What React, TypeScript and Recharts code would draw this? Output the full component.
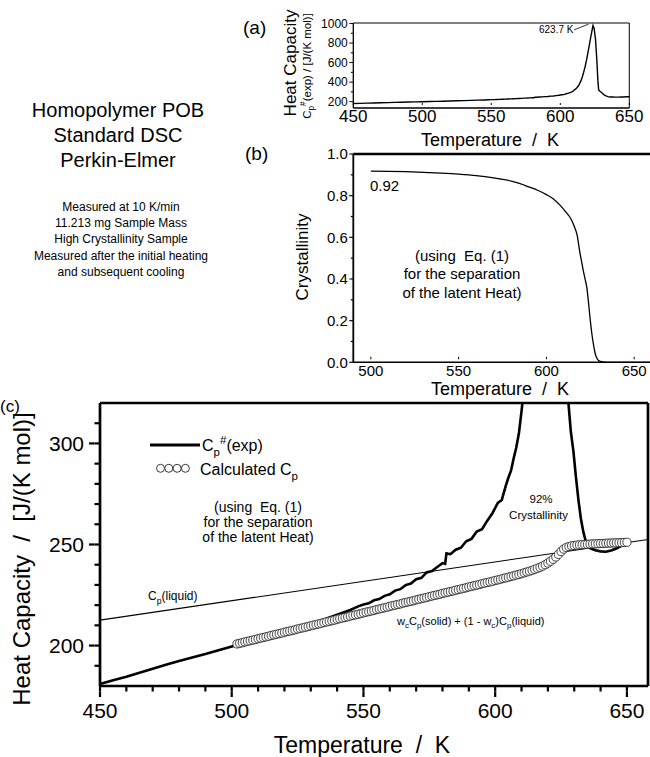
import { ComposedChart, Line, Scatter, XAxis, YAxis, Legend, ReferenceLine } from 'recharts'

const FONT = '"Liberation Sans", Arial, Helvetica, sans-serif'

// Cp#(exp) in J/(K mol) -- same run is drawn in (a) and, zoomed, in (c)
const expT = [
  450, 455, 460, 465, 470, 475, 480, 485, 490, 495, 500, 505, 510, 515, 520, 525, 530, 535, 540, 545,
  548, 550, 552, 554, 556, 558, 560, 562, 564, 566, 568, 570, 572, 574, 576, 578, 580, 581, 581.5, 583,
  585, 587, 589, 591, 593, 595, 597, 599, 601, 602.5, 604, 605, 606, 607, 608, 609, 610, 611, 612, 613,
  614, 615, 616, 617, 618, 619, 620, 621, 622, 623, 623.7, 624.5, 625.5, 626.5, 627.2, 627.8, 628.7, 629.7, 630.6, 631.6,
  632.5, 633.5, 634.5, 636, 638, 640, 642, 644, 646, 648, 650,
]
const expCp = [
  181.0, 182.8, 184.6, 186.6, 188.5, 190.5, 192.4, 194.1, 195.8, 197.7, 199.5, 201.1, 203.0, 204.8, 206.9, 208.6, 210.9, 212.9, 215.2, 217.6,
  219.4, 220.3, 220.9, 222.4, 223.0, 224.6, 225.4, 227.2, 227.9, 229.9, 230.7, 232.8, 233.5, 236.2, 236.9, 238.9, 240.8, 240.4, 245.6, 245.2,
  247.4, 248.4, 251.6, 252.8, 256.4, 257.6, 261.8, 265.6, 270.6, 272.0, 279.0, 283.0, 286.5, 292.5, 298.0, 305.0, 316, 328, 342, 360,
  385, 415, 455, 505, 560, 625, 700, 775, 855, 930, 980, 950, 840, 620, 420, 320, 306, 296, 284, 272,
  263, 256, 251, 248.2, 247.2, 246.6, 246.4, 247.0, 248.0, 249.4, 250.4,
]

// Cp(liquid) straight line in (c)
const liqT = [450, 658]
const liqCp = [212.6, 252.5]

// calculated Cp (open circles), one point per kelvin starting at 502 K
const calcStartT = 502
const calcCp = [
  200.8, 201.1, 201.4, 201.8, 202.1, 202.4, 202.7, 203.0, 203.4, 203.7, 204.0, 204.3, 204.6, 205.0, 205.3, 205.6, 205.9, 206.2,
  206.6, 206.9, 207.2, 207.5, 207.8, 208.2, 208.5, 208.8, 209.1, 209.4, 209.8, 210.1, 210.4, 210.7, 211.0, 211.4, 211.7, 212.0,
  212.3, 212.6, 213.0, 213.3, 213.6, 213.9, 214.2, 214.6, 214.9, 215.2, 215.5, 215.8, 216.2, 216.5, 216.8, 217.1, 217.4, 217.8,
  218.1, 218.4, 218.7, 219.0, 219.4, 219.7, 220.0, 220.3, 220.6, 221.0, 221.3, 221.6, 221.9, 222.2, 222.6, 222.9, 223.2, 223.5,
  223.8, 224.2, 224.5, 224.8, 225.1, 225.4, 225.8, 226.1, 226.4, 226.7, 227.0, 227.4, 227.7, 228.0, 228.3, 228.6, 229.0, 229.3,
  229.6, 229.9, 230.2, 230.6, 230.9, 231.2, 231.5, 231.8, 232.2, 232.5, 232.8, 233.2, 233.5, 233.8, 234.2, 234.5, 234.9, 235.2,
  235.6, 236.0, 236.4, 236.8, 237.2, 237.7, 238.2, 238.7, 239.3, 240.0, 240.8, 241.7, 242.7, 243.8, 245.1, 246.5, 247.7, 248.5,
  249.0, 249.3, 249.5, 249.7, 249.8, 249.9, 250.0, 250.1, 250.2, 250.3, 250.3, 250.4, 250.5, 250.5, 250.6, 250.7, 250.7, 250.8,
  250.8, 250.9, 250.9, 251.0, 251.1,
]

// crystallinity w_c for panel (b)
const crystT = [
  500, 510, 520, 530, 540, 550, 560, 570, 580, 585, 590, 595, 600, 604, 608, 611, 614, 616, 617.5, 619,
  620, 621, 622, 623, 624, 625, 626, 627, 628, 629, 630, 632, 634, 645, 659,
]
const crystW = [
  0.918, 0.917, 0.915, 0.912, 0.908, 0.903, 0.896, 0.885, 0.870, 0.858, 0.842, 0.826, 0.805, 0.784, 0.752, 0.722, 0.688, 0.650, 0.610, 0.530,
  0.485, 0.440, 0.400, 0.360, 0.285, 0.200, 0.130, 0.075, 0.035, 0.016, 0.007, 0.002, 0, 0, 0,
]

// tick positions (labels only on the majors)
const aTicksX = [450, 460, 470, 480, 490, 500, 510, 520, 530, 540, 550, 560, 570, 580, 590, 600, 610, 620, 630, 640, 650]
const aTicksY = [200, 300, 400, 500, 600, 700, 800, 900, 1000]
const bTicksX = [500, 510, 520, 530, 540, 550, 560, 570, 580, 590, 600, 610, 620, 630, 640, 650]
const bTicksY = [0, 0.1, 0.2, 0.3, 0.4, 0.5, 0.6, 0.7, 0.8, 0.9, 1.0]
const cTicksX = [450, 460, 470, 480, 490, 500, 510, 520, 530, 540, 550, 560, 570, 580, 590, 600, 610, 620, 630, 640, 650]
const cTicksY = [190, 200, 210, 220, 230, 240, 250, 260, 270, 280, 290, 300, 310]

const expData = expT.map((T, i) => ({ T, cp: expCp[i] }))
const liqData = liqT.map((T, i) => ({ T, cp: liqCp[i] }))
const calcData = calcCp.map((cp, i) => ({ T: calcStartT + i, cp }))
const crystData = crystT.map((T, i) => ({ T, w: crystW[i] }))

// plot box of each chart, px inside its own svg
const A = { w: 410, h: 150, left: 113.3, top: 23, right: 20.7, bottom: 42 }
const B = { w: 400, h: 270, left: 103.3, top: 24, right: 0, bottom: 37.7 }
const C = { w: 650, h: 362, left: 100, top: 8, right: 2, bottom: 71 }

const ink = (w: number) => ({ stroke: '#000', strokeWidth: w })

// native tick lines give the short (minor) length; majors get an extension and a label here
function yTick(axisX: number, isMajor: (v: number) => boolean, minor: number, major: number, gap: number, fontSize: number, sw: number, fmt: (v: number) => string) {
  return (p: any) => {
    const v = p.payload.value
    const y = p.payload.coordinate
    if (!isMajor(v)) return <g />
    return (
      <g>
        <line x1={axisX - minor} y1={y} x2={axisX - major} y2={y} stroke="#000" strokeWidth={sw} />
        <text x={axisX - major - gap} y={y} dy="0.36em" textAnchor="end" fontSize={fontSize} fontFamily={FONT} fill="#000">
          {fmt(v)}
        </text>
      </g>
    )
  }
}

function xTick(axisY: number, isMajor: (v: number) => boolean, minor: number, major: number, inward: boolean, gap: number, fontSize: number, sw: number) {
  return (p: any) => {
    const v = p.payload.value
    const x = p.payload.coordinate
    if (!isMajor(v)) return <g />
    const d = inward ? -1 : 1
    const ty = inward ? axisY + gap : axisY + major + gap
    return (
      <g>
        <line x1={x} y1={axisY + d * minor} x2={x} y2={axisY + d * major} stroke="#000" strokeWidth={sw} />
        <text x={x} y={ty} dy="0.71em" textAnchor="middle" fontSize={fontSize} fontFamily={FONT} fill="#000">
          {v}
        </text>
      </g>
    )
  }
}

const every50 = (v: number) => v % 50 === 0
const aTickX = xTick(A.h - A.bottom, every50, 3, 5, true, 2, 17, 1)
const aTickY = yTick(A.left, (v) => v % 200 === 0, 2.5, 4, 1.5, 12, 1, (v) => String(v))
const bTickX = xTick(B.h - B.bottom, every50, 3, 5.5, true, 3.3, 15, 1)
const bTickY = yTick(B.left, (v) => Math.round(v * 10) % 2 === 0, 2.5, 4, 1.5, 15, 1.2, (v) => v.toFixed(1))
const cTickX = xTick(C.h - C.bottom, every50, 5.5, 11, false, 6, 21, 2.2)
const cTickY = yTick(C.left, every50, 5.5, 11, 5, 21, 2.2, (v) => String(v))

// C with subscript p (and optional # superscript), followed by normal text
function Cp({ s, hash, rest }: { s: number; hash?: boolean; rest: string }) {
  const small = s * 0.72
  if (hash) {
    return (
      <>
        C
        <tspan dy={s * 0.3} fontSize={small}>p</tspan>
        <tspan dy={-s * 0.72} fontSize={small}>#</tspan>
        <tspan dy={s * 0.42} fontSize={s}>{rest}</tspan>
      </>
    )
  }
  return (
    <>
      C
      <tspan dy={s * 0.3} fontSize={small}>p</tspan>
      <tspan dy={-s * 0.3} fontSize={s}>{rest}</tspan>
    </>
  )
}

function CLegend() {
  const circles = [20.5, 28.8, 37.1, 45.4]
  return (
    <svg width={240} height={130} style={{ display: 'block', overflow: 'visible' }} fontFamily={FONT} fill="#000">
      <line x1={10} y1={20} x2={60} y2={20} stroke="#000" strokeWidth={3} />
      <text x={62} y={26} fontSize={16}>
        <Cp s={16} hash rest="(exp)" />
      </text>
      {circles.map((cx) => (
        <circle key={cx} cx={cx} cy={43.3} r={4} fill="#fff" stroke="#222" strokeWidth={0.9} />
      ))}
      <text x={60} y={50} fontSize={16}>
        {'Calculated '}
        <Cp s={16} rest="" />
      </text>
      <g textAnchor="middle" fontSize={14}>
        <text x={118} y={86.5}>(using{'\u00a0\u00a0'}Eq. (1)</text>
        <text x={118} y={101.5}>for the separation</text>
        <text x={118} y={116.5}>of the latent Heat)</text>
      </g>
    </svg>
  )
}

function Overlay() {
  return (
    <svg width={650} height={757} style={{ position: 'absolute', left: 0, top: 0, pointerEvents: 'none' }} fontFamily={FONT} fill="#000">
      <text x={243} y={34} fontSize={19}>(a)</text>
      <text x={245} y={160} fontSize={19}>(b)</text>
      <text x={0} y={412} fontSize={17}>(c)</text>

      <g textAnchor="middle" fontSize={20}>
        <text x={118} y={117}>Homopolymer POB</text>
        <text x={118} y={142}>Standard DSC</text>
        <text x={118} y={167}>Perkin-Elmer</text>
      </g>
      <g textAnchor="middle" fontSize={12}>
        <text x={121} y={211}>Measured at 10 K/min</text>
        <text x={121} y={227}>11.213 mg Sample Mass</text>
        <text x={121} y={243}>High Crystallinity Sample</text>
        <text x={121} y={260}>Measured after the initial heating</text>
        <text x={121} y={276}>and subsequent cooling</text>
      </g>

      {/* (a) titles */}
      <text x={490} y={146} fontSize={18} textAnchor="middle">Temperature{'\u00a0\u00a0'}/{'\u00a0\u00a0'}K</text>
      <text x={296} y={63} fontSize={17} textAnchor="middle" transform="rotate(-90 296 63)">Heat Capacity</text>
      <text x={311} y={66} fontSize={11.5} textAnchor="middle" transform="rotate(-90 311 66)">
        <Cp s={11.5} hash rest="(exp) / [J/(K mol)]" />
      </text>
      <text x={539} y={33} fontSize={10}>623.7 K</text>

      {/* (b) titles and notes */}
      <text x={500} y={395} fontSize={18} textAnchor="middle">Temperature{'\u00a0\u00a0'}/{'\u00a0\u00a0'}K</text>
      <text x={308} y={257} fontSize={17} textAnchor="middle" transform="rotate(-90 308 257)">Crystallinity</text>
      <text x={370} y={191} fontSize={15}>0.92</text>
      <g textAnchor="middle" fontSize={15}>
        <text x={462} y={260.5}>(using{'\u00a0\u00a0'}Eq. (1)</text>
        <text x={462} y={279}>for the separation</text>
        <text x={462} y={298}>of the latent Heat)</text>
      </g>

      {/* (c) titles and notes */}
      <text x={362} y={753} fontSize={23} textAnchor="middle">Temperature{'\u00a0\u00a0'}/{'\u00a0\u00a0'}K</text>
      <text x={30} y={559} fontSize={24} textAnchor="middle" transform="rotate(-90 30 559)">
        Heat Capacity{'\u00a0\u00a0'}/{'\u00a0\u00a0'}[J/(K mol)]
      </text>
      <text x={148} y={600} fontSize={12}>
        <Cp s={12} rest="(liquid)" />
      </text>
      <g textAnchor="middle" fontSize={11.5}>
        <text x={541} y={503}>92%</text>
        <text x={538.5} y={519}>Crystallinity</text>
      </g>
      <text x={397} y={625} fontSize={11}>
        w<tspan dy={3} fontSize={8}>c</tspan>
        <tspan dy={-3}>C</tspan>
        <tspan dy={3} fontSize={8}>p</tspan>
        <tspan dy={-3}>(solid) + (1 - w</tspan>
        <tspan dy={3} fontSize={8}>c</tspan>
        <tspan dy={-3}>)C</tspan>
        <tspan dy={3} fontSize={8}>p</tspan>
        <tspan dy={-3}>(liquid)</tspan>
      </text>
    </svg>
  )
}

export default function App() {
  return (
    <div style={{ position: 'absolute', left: 0, top: 0, width: 650, height: 757, overflow: 'hidden', background: '#fff' }}>
      {/* (a) full DSC trace */}
      <div style={{ position: 'absolute', left: 240, top: 0 }}>
        <ComposedChart width={A.w} height={A.h} margin={{ top: A.top - 1, right: A.right - 1, bottom: 0, left: 0 }}>
          <XAxis dataKey="T" type="number" domain={[450, 650]} ticks={aTicksX} interval={0} height={A.bottom}
            tickLine={false} axisLine={ink(1.3)} tick={aTickX} />
          <XAxis xAxisId="aIn" type="number" domain={[450, 650]} ticks={aTicksX} interval={0} height={6} mirror
            tickSize={3} tickLine={ink(1)} tick={false} axisLine={false} />
          <YAxis type="number" domain={[135, 1005]} ticks={aTicksY} interval={0} width={A.left}
            tickSize={2.5} tickLine={ink(1)} axisLine={ink(1.3)} tick={aTickY} />
          <XAxis xAxisId="top" orientation="top" type="number" domain={[450, 650]} height={1} tick={false} tickLine={false}
            axisLine={ink(1)} />
          <YAxis yAxisId="right" orientation="right" type="number" domain={[135, 1005]} width={1} tick={false} tickLine={false}
            axisLine={ink(1)} />
          <Line data={expData} dataKey="cp" type="linear" stroke="#000" strokeWidth={1.4} dot={false} isAnimationActive={false} />
          <ReferenceLine segment={[{ x: 610, y: 935 }, { x: 620.5, y: 993 }]} stroke="#000" strokeWidth={0.8} ifOverflow="visible" />
        </ComposedChart>
      </div>

      {/* (b) crystallinity */}
      <div style={{ position: 'absolute', left: 250, top: 130 }}>
        <ComposedChart width={B.w} height={B.h} margin={{ top: B.top - 1, right: B.right, bottom: 0, left: 0 }}>
          <XAxis dataKey="T" type="number" domain={[490, 659]} ticks={bTicksX} interval={0} height={B.bottom}
            tickLine={false} axisLine={ink(1.6)} tick={bTickX} />
          <XAxis xAxisId="bIn" type="number" domain={[490, 659]} ticks={bTicksX} interval={0} height={6} mirror
            tickSize={3} tickLine={ink(1)} tick={false} axisLine={false} />
          <YAxis type="number" domain={[0, 1]} ticks={bTicksY} interval={0} width={B.left}
            tickSize={2.5} tickLine={ink(1.2)} axisLine={ink(1.8)} tick={bTickY} />
          <XAxis xAxisId="top" orientation="top" type="number" domain={[490, 659]} height={1} tick={false} tickLine={false}
            axisLine={ink(2.7)} />
          <Line data={crystData} dataKey="w" type="monotone" stroke="#000" strokeWidth={1.3} dot={false} isAnimationActive={false} />
        </ComposedChart>
      </div>

      {/* (c) zoom on the melting region */}
      <div style={{ position: 'absolute', left: 0, top: 395 }}>
        <ComposedChart width={C.w} height={C.h} margin={{ top: C.top - 1, right: C.right - 1, bottom: 0, left: 0 }}>
          <XAxis dataKey="T" type="number" domain={[450, 658]} ticks={cTicksX} interval={0} height={C.bottom}
            tickSize={5.5} tickLine={ink(2.2)} axisLine={ink(2.7)} tick={cTickX} />
          <YAxis type="number" domain={[180, 320]} allowDataOverflow ticks={cTicksY} interval={0} width={C.left}
            tickSize={5.5} tickLine={ink(2.2)} axisLine={ink(2.7)} tick={cTickY} />
          <XAxis xAxisId="top" orientation="top" type="number" domain={[450, 658]} height={1} tick={false} tickLine={false}
            axisLine={ink(2.7)} />
          <YAxis yAxisId="right" orientation="right" type="number" domain={[180, 320]} width={1} tick={false} tickLine={false}
            axisLine={ink(2.7)} />
          <Line data={liqData} dataKey="cp" type="linear" stroke="#000" strokeWidth={1.1} dot={false} isAnimationActive={false} />
          <Line data={expData} dataKey="cp" type="linear" stroke="#000" strokeWidth={2.6} dot={false} isAnimationActive={false} />
          <Scatter data={calcData} dataKey="cp" isAnimationActive={false}
            shape={(p: any) => <circle cx={p.cx} cy={p.cy} r={4.1} fill="#fff" stroke="#222" strokeWidth={0.85} />} />
          <Legend verticalAlign="middle" align="center" layout="horizontal"
            wrapperStyle={{ left: 140, top: 30, width: 240, height: 130 }} content={() => <CLegend />} />
        </ComposedChart>
      </div>

      <Overlay />
    </div>
  )
}
